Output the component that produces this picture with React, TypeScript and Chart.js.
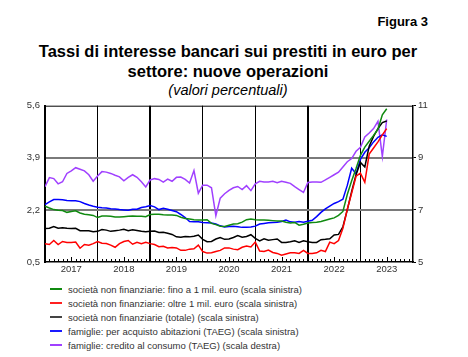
import React, { useEffect, useRef } from 'react';
import { Chart, registerables } from 'chart.js';

Chart.register(...registerables);

// x index 0 = Jan 2017, monthly
const startYear = 2017;
const yearLabels = ['2017', '2018', '2019', '2020', '2021', '2022', '2023'];
const leftTicks = [0.5, 2.2, 3.9, 5.6];
const rightTicks = [5, 7, 9, 11];

const nfcSmall = [
  2.32, 2.26, 2.21, 2.19, 2.18, 2.12, 2.15, 2.17, 2.1, 2.06, 2.04, 2.02,
  1.95, 2.0, 2.0, 1.99, 1.97, 1.97, 1.98, 1.99, 2.0, 1.99, 1.99, 1.98,
  2.05, 2.06, 2.06, 2.04, 2.03, 2.03, 2.02, 1.96, 1.92, 1.9, 1.88, 1.87,
  1.87, 1.88, 1.76, 1.72, 1.67, 1.66, 1.7, 1.74, 1.75, 1.8, 1.88, 1.9,
  1.88, 1.87, 1.87, 1.86, 1.85, 1.84, 1.84, 1.8, 1.77, 1.79, 1.7, 1.73,
  1.77, 1.79, 1.8, 1.82, 1.86, 1.9, 1.94, 2.02, 2.15, 2.7, 3.15, 3.55,
  3.98, 4.25, 4.44, 4.63, 4.83, 5.3, 5.5,
];
const nfcLarge = [
  1.1, 1.07, 1.2, 1.07, 1.17, 1.14, 1.14, 1.15, 0.95, 1.07, 1.05, 1.1,
  1.17, 1.11, 1.1, 1.05, 0.98, 1.1, 1.17, 1.2, 1.08, 1.14, 1.1, 1.14,
  1.1, 1.07, 1.0, 1.01, 0.96, 0.97, 0.96, 0.88, 0.88, 0.92, 0.93, 1.05,
  0.84, 0.79, 0.8, 0.84, 0.88, 0.96, 0.96, 0.92, 0.9, 0.98, 1.02, 0.99,
  1.15, 0.86, 0.84, 0.89, 0.81, 0.78, 0.72, 0.76, 0.8, 0.8, 0.78, 0.88,
  0.78, 0.78, 0.8, 0.88, 0.84, 1.15, 1.1, 1.2, 1.6, 2.22, 2.75, 3.3,
  3.4, 3.1, 4.02, 4.22, 4.42, 4.65, 4.85,
];
const nfcTotal = [
  1.59, 1.6, 1.66, 1.6, 1.62, 1.6, 1.59, 1.6, 1.52, 1.52, 1.52, 1.49,
  1.5, 1.56, 1.54, 1.5, 1.52, 1.54, 1.57, 1.52, 1.55, 1.53, 1.5, 1.49,
  1.5, 1.51, 1.46, 1.47, 1.44, 1.4, 1.32, 1.31, 1.33, 1.32, 1.34, 1.38,
  1.24, 1.16, 1.17, 1.25, 1.3, 1.24, 1.25, 1.3, 1.36, 1.31, 1.33, 1.39,
  1.27, 1.19, 1.26, 1.21, 1.23, 1.25, 1.14, 1.14, 1.16, 1.19, 1.14, 1.19,
  1.16, 1.14, 1.14, 1.23, 1.24, 1.26, 1.38, 1.4, 1.65, 2.2, 2.8, 3.35,
  3.75, 3.6, 4.28, 4.6, 4.85, 5.05, 5.1,
];
const mortgages = [
  2.37, 2.46, 2.54, 2.54, 2.53, 2.51, 2.5, 2.5, 2.47, 2.41, 2.36, 2.32,
  2.29, 2.27, 2.26, 2.24, 2.23, 2.21, 2.2, 2.19, 2.22, 2.22, 2.28, 2.3,
  2.34, 2.3, 2.21, 2.25, 2.22, 2.18, 2.14, 2.05, 1.95, 1.82, 1.81, 1.81,
  1.79, 1.78, 1.77, 1.74, 1.68, 1.64, 1.66, 1.67, 1.65, 1.63, 1.63, 1.64,
  1.67, 1.74, 1.76, 1.78, 1.79, 1.8, 1.82, 1.87, 1.81, 1.8, 1.82, 1.8,
  1.83, 1.86, 1.98, 2.12, 2.23, 2.32, 2.41, 2.47, 2.55, 3.0, 3.56, 3.38,
  3.85, 4.08, 4.23, 4.42, 4.57, 4.65, 4.6,
];
const consumer = [
  7.89, 8.24, 8.2, 8.0, 8.08, 8.4, 8.5, 8.62, 8.56, 8.5, 8.35, 8.1,
  8.3, 8.47, 8.45, 8.4, 8.33, 8.27, 8.12, 8.25, 8.35, 8.25, 8.08, 7.88,
  8.15, 8.2, 8.17, 8.07, 8.18, 8.1, 8.25, 8.26, 8.17, 8.03, 8.51, 7.64,
  7.95, 7.95, 7.85, 6.78, 7.45, 7.62, 7.75, 7.85, 7.9, 7.78, 7.93, 7.74,
  8.0, 8.1, 8.07, 8.07, 8.1, 8.04, 8.1, 8.06, 8.02, 7.89, 7.78, 7.67,
  8.05, 8.07, 8.07, 8.06, 8.15, 8.25, 8.35, 8.45, 8.65, 8.85, 8.97, 9.25,
  9.4, 9.8, 9.95, 10.12, 10.4, 9.05, 10.47,
];

const seriesLabels = [
  'società non finanziarie: fino a 1 mil. euro (scala sinistra)',
  'società non finanziarie: oltre 1 mil. euro (scala sinistra)',
  'società non finanziarie (totale) (scala sinistra)',
  'famiglie: per acquisto abitazioni (TAEG) (scala sinistra)',
  'famiglie: credito al consumo (TAEG) (scala destra)',
];
const seriesColors = ['#108a10', '#ff0000', '#000000', '#0000ff', '#a040ff'];
const legendColors = ['#108a10', '#ff2020', '#444444', '#1a1aff', '#a040ff'];
const seriesAxes = ['y', 'y', 'y', 'y', 'y1'];
const seriesData = [nfcSmall, nfcLarge, nfcTotal, mortgages, consumer];

const FONT = '"Liberation Sans", Arial, sans-serif';

export default function App() {
  const ref = useRef<HTMLCanvasElement>(null);

  useEffect(() => {
    if (!ref.current) return;
    const nMonths = yearLabels.length * 12;

    const framePlugin = {
      id: 'frame',
      afterDatasetsDraw(chart: any) {
        const { ctx, chartArea: a, scales } = chart;
        const xs = scales.x;
        ctx.save();
        ctx.strokeStyle = '#000';
        ctx.lineWidth = 1;
        ctx.beginPath();
        for (let i = 1; i < nMonths; i++) {
          if (i % 12 === 0) continue;
          const x = Math.round(xs.getPixelForValue(i)) + 0.5;
          const h = i % 12 === 6 ? 5 : 3;
          ctx.moveTo(x, a.bottom);
          ctx.lineTo(x, a.bottom - h);
        }
        ctx.stroke();
        ctx.beginPath();
        ctx.moveTo(a.left, a.top + 0.5);
        ctx.lineTo(a.right, a.top + 0.5);
        ctx.stroke();
        ctx.restore();
      },
    };

    const chart = new Chart(ref.current, {
      type: 'line',
      data: {
        datasets: seriesData.map((arr, k) => ({
          label: seriesLabels[k],
          data: arr.map((v, i) => ({ x: i, y: v })),
          borderColor: seriesColors[k],
          backgroundColor: seriesColors[k],
          borderWidth: 1.5,
          pointRadius: 0,
          tension: 0,
          yAxisID: seriesAxes[k],
        })),
      },
      options: {
        animation: false,
        responsive: false,
        layout: { padding: { top: 7, left: 0, right: 0, bottom: 0 } },
        plugins: { legend: { display: false }, tooltip: { enabled: false }, title: { display: false } },
        scales: {
          x: {
            type: 'linear',
            min: 0,
            max: nMonths,
            afterBuildTicks: (s: any) => {
              s.ticks = Array.from({ length: nMonths + 1 }, (_, i) => ({ value: i }));
            },
            afterFit: (s: any) => {
              s.height = 18;
            },
            grid: {
              drawTicks: false,
              color: (c: any) => {
                const v = c.tick ? c.tick.value : 0;
                return v % 12 === 0 && v > 0 && v < nMonths ? '#000' : 'rgba(0,0,0,0)';
              },
              lineWidth: (c: any) => {
                const v = c.tick ? c.tick.value : 0;
                return v === 24 || v === 60 ? 2 : 1;
              },
            },
            border: { display: true, color: '#000', width: 1.5 },
            ticks: {
              autoSkip: false,
              maxRotation: 0,
              padding: 2,
              color: '#333',
              font: { family: FONT, size: 9.5 },
              callback: (v: any) => {
                const n = Number(v);
                if (n % 12 !== 6) return '';
                return yearLabels[(n - 6) / 12] ?? String(startYear + (n - 6) / 12);
              },
            },
          },
          y: {
            type: 'linear',
            position: 'left',
            min: leftTicks[0],
            max: leftTicks[leftTicks.length - 1],
            afterBuildTicks: (s: any) => {
              s.ticks = leftTicks.map((v) => ({ value: v }));
            },
            afterFit: (s: any) => {
              s.width = 45;
            },
            grid: {
              drawTicks: false,
              color: (c: any) => {
                const v = c.tick ? c.tick.value : 0;
                return v > leftTicks[0] && v < leftTicks[leftTicks.length - 1] ? '#7a7a7a' : 'rgba(0,0,0,0)';
              },
              lineWidth: 2,
            },
            border: { display: true, color: '#000', width: 2 },
            ticks: {
              padding: 5,
              color: '#333',
              font: { family: FONT, size: 9.5 },
              callback: (v: any) => Number(v).toFixed(1).replace('.', ','),
            },
          },
          y1: {
            type: 'linear',
            position: 'right',
            min: rightTicks[0],
            max: rightTicks[rightTicks.length - 1],
            afterBuildTicks: (s: any) => {
              s.ticks = rightTicks.map((v) => ({ value: v }));
            },
            afterFit: (s: any) => {
              s.width = 55;
            },
            grid: { drawOnChartArea: false, drawTicks: true, tickLength: 3, color: '#000', lineWidth: 1 },
            border: { display: true, color: '#000', width: 1.5 },
            ticks: {
              padding: 2,
              color: '#333',
              font: { family: FONT, size: 9.5 },
              callback: (v: any) => String(v),
            },
          },
        },
      },
      plugins: [framePlugin],
    } as any);

    return () => chart.destroy();
  }, []);

  return (
    <div
      style={{
        position: 'absolute',
        left: 0,
        top: 0,
        width: 468,
        height: 357,
        background: '#fff',
        fontFamily: FONT,
        color: '#000',
      }}
    >
      <div
        style={{
          position: 'absolute',
          right: 40,
          top: 14,
          fontSize: 13,
          fontWeight: 'bold',
          lineHeight: '16px',
        }}
      >
        Figura 3
      </div>
      <div
        style={{
          position: 'absolute',
          left: 0,
          width: 456,
          top: 41,
          textAlign: 'center',
          fontSize: 16.5,
          fontWeight: 'bold',
          lineHeight: '20px',
        }}
      >
        Tassi di interesse bancari sui prestiti in euro per
        <br />
        settore: nuove operazioni
      </div>
      <div
        style={{
          position: 'absolute',
          left: 0,
          width: 456,
          top: 82,
          textAlign: 'center',
          fontSize: 14.5,
          fontStyle: 'italic',
          lineHeight: '16px',
        }}
      >
        (valori percentuali)
      </div>
      <canvas
        ref={ref}
        width={468}
        height={185}
        style={{ position: 'absolute', left: 0, top: 95, width: 468, height: 185 }}
      />
      <div style={{ position: 'absolute', left: 50, top: 282 }}>
        {seriesLabels.map((lab, k) => (
          <div
            key={k}
            style={{ display: 'flex', alignItems: 'center', height: 14, fontSize: 9.5, color: '#333', whiteSpace: 'nowrap' }}
          >
            <span
              style={{ display: 'inline-block', width: 12, height: 2, background: legendColors[k], marginRight: 6 }}
            />
            <span>{lab}</span>
          </div>
        ))}
      </div>
    </div>
  );
}
